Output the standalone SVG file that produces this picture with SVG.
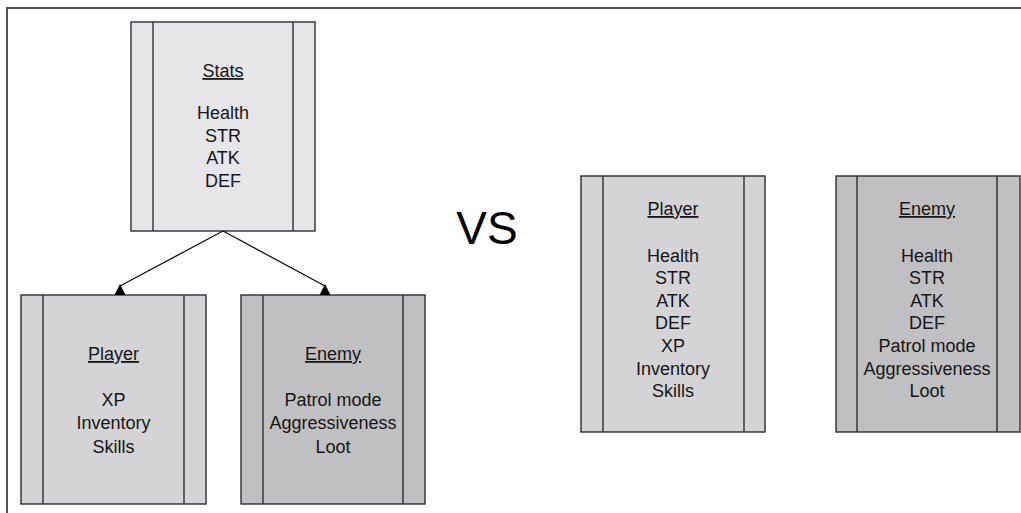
<svg xmlns="http://www.w3.org/2000/svg" width="1021" height="513" viewBox="0 0 1021 513">
  <style>
    .frame { fill: none; stroke: #555; stroke-width: 2; }
    .box { stroke: #2e2e2e; stroke-width: 1.4; }
    .rule { stroke: #2e2e2e; stroke-width: 1.4; fill: none; }
    .stats { fill: #e6e6e8; }
    .player { fill: #d4d4d6; }
    .enemy { fill: #c0c0c2; }
    text { font-family: "Liberation Sans", Arial, sans-serif; font-size: 18px; fill: #161616; text-anchor: middle; }
    .title { text-decoration: underline; }
    .vs { font-size: 46px; fill: #000; }
    .link { stroke: #111; stroke-width: 1.3; fill: none; }
    .head { fill: #000; }
  </style>

  <!-- page frame (top and left edges) -->
  <polyline class="frame" points="7,513 7,8 1021,8"/>

  <!-- base class -->
  <g id="stats">
    <rect class="box stats" x="131" y="22" width="184" height="209"/>
    <line class="rule" x1="153" y1="22" x2="153" y2="231"/>
    <line class="rule" x1="293" y1="22" x2="293" y2="231"/>
    <text class="title" x="223" y="77">Stats</text>
    <text x="223" y="119">Health</text>
    <text x="223" y="141.7">STR</text>
    <text x="223" y="164.4">ATK</text>
    <text x="223" y="187">DEF</text>
  </g>

  <!-- derived classes -->
  <g id="player-derived">
    <rect class="box player" x="21" y="295" width="185" height="209"/>
    <line class="rule" x1="43" y1="295" x2="43" y2="504"/>
    <line class="rule" x1="184" y1="295" x2="184" y2="504"/>
    <text class="title" x="113.5" y="360">Player</text>
    <text x="113.5" y="406">XP</text>
    <text x="113.5" y="429.3">Inventory</text>
    <text x="113.5" y="452.6">Skills</text>
  </g>

  <g id="enemy-derived">
    <rect class="box enemy" x="241" y="295" width="184" height="209"/>
    <line class="rule" x1="263" y1="295" x2="263" y2="504"/>
    <line class="rule" x1="403" y1="295" x2="403" y2="504"/>
    <text class="title" x="333" y="360">Enemy</text>
    <text x="333" y="406">Patrol mode</text>
    <text x="333" y="429.3">Aggressiveness</text>
    <text x="333" y="452.6">Loot</text>
  </g>

  <!-- inheritance connectors -->
  <g id="connectors">
    <line class="link" x1="223" y1="231" x2="120" y2="286"/>
    <polygon class="head" points="120,284 114.5,295 125.5,295"/>
    <line class="link" x1="223" y1="231" x2="325" y2="286"/>
    <polygon class="head" points="325,284 319.5,295 330.5,295"/>
  </g>

  <g id="vs">
    <text class="vs" x="487" y="244">VS</text>
  </g>

  <!-- flat classes -->
  <g id="player-flat">
    <rect class="box player" x="581" y="176" width="184" height="256"/>
    <line class="rule" x1="603" y1="176" x2="603" y2="432"/>
    <line class="rule" x1="744" y1="176" x2="744" y2="432"/>
    <text class="title" x="673" y="215">Player</text>
    <text x="673" y="261.5">Health</text>
    <text x="673" y="284.1">STR</text>
    <text x="673" y="306.7">ATK</text>
    <text x="673" y="329.3">DEF</text>
    <text x="673" y="351.9">XP</text>
    <text x="673" y="374.5">Inventory</text>
    <text x="673" y="397.1">Skills</text>
  </g>

  <g id="enemy-flat">
    <rect class="box enemy" x="836" y="176" width="184" height="256"/>
    <line class="rule" x1="857" y1="176" x2="857" y2="432"/>
    <line class="rule" x1="997" y1="176" x2="997" y2="432"/>
    <text class="title" x="927" y="215">Enemy</text>
    <text x="927" y="261.5">Health</text>
    <text x="927" y="284.1">STR</text>
    <text x="927" y="306.7">ATK</text>
    <text x="927" y="329.3">DEF</text>
    <text x="927" y="351.9">Patrol mode</text>
    <text x="927" y="374.5">Aggressiveness</text>
    <text x="927" y="397.1">Loot</text>
  </g>
</svg>
